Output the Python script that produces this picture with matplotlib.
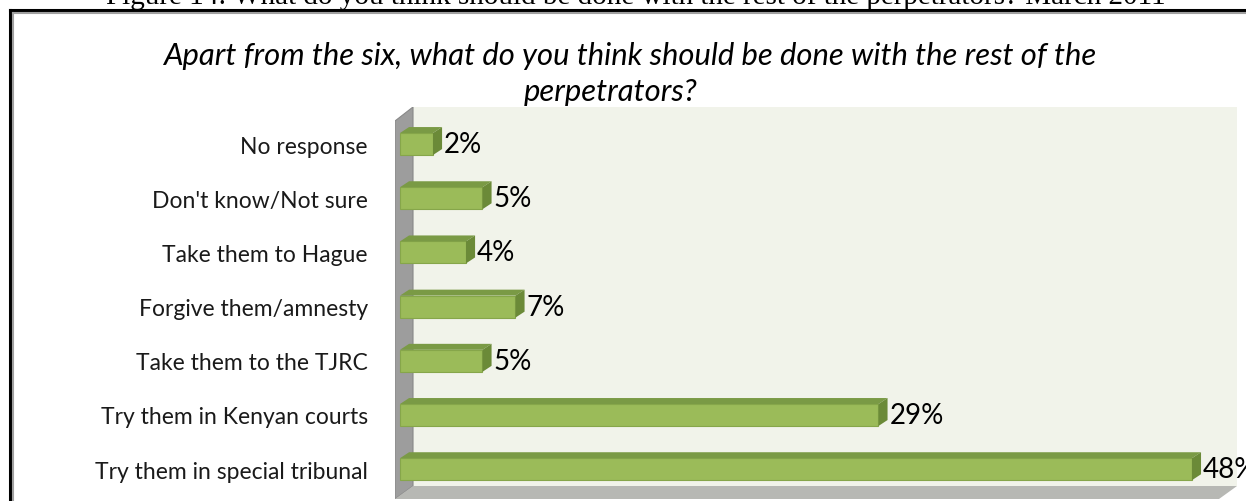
import matplotlib
matplotlib.use("Agg")
import matplotlib.pyplot as plt
from matplotlib.patches import Polygon
from matplotlib.lines import Line2D

# survey answers, top to bottom
categories = ["No response", "Don't know/Not sure", "Take them to Hague",
              "Forgive them/amnesty", "Take them to the TJRC",
              "Try them in Kenyan courts", "Try them in special tribunal"]
percent = [2, 5, 4, 7, 5, 29, 48]

caption = "Figure 14: What do you think should be done with the rest of the perpetrators? March 2011"
title_1 = "Apart from the six, what do you think should be done with the rest of the"
title_2 = "perpetrators?"

W, H = 1246, 502
fig = plt.figure(figsize=(W / 100, H / 100), dpi=100)
fig.patch.set_facecolor("white")

# caption above the framed box (partly cut off at the top)
fig.text(636 / W, 1 - 4.5 / H, caption, ha="center", va="baseline",
         fontsize=21, family="Liberation Serif", color="black")

# double border of the box: black outer, grey inner
fig.add_artist(Line2D([9.5 / W, 1.01], [1 - 10.5 / H, 1 - 10.5 / H], color="black", lw=2.2))
fig.add_artist(Line2D([9.5 / W, 9.5 / W], [1 - 10.5 / H, -0.01], color="black", lw=2.2))
fig.add_artist(Line2D([13 / W, 1.01], [1 - 14 / H, 1 - 14 / H], color="#a0a0a0", lw=1.5))
fig.add_artist(Line2D([13 / W, 13 / W], [1 - 14 / H, -0.01], color="#a0a0a0", lw=1.5))

fig.text(630 / W, 1 - 56 / H, title_1, ha="center", va="center",
         fontsize=22.3, family="Lato", style="italic")
fig.text(611 / W, 1 - 92 / H, title_2, ha="center", va="center",
         fontsize=22.3, family="Lato", style="italic")

ax = fig.add_axes([395 / W, 2 / H, 842 / W, 392 / H])
ax.set_xlim(-0.303, 50.73)
ax.set_ylim(6.55, -0.683)
ax.patch.set_visible(False)
for s in ax.spines.values():
    s.set_visible(False)
ax.set_xticks([])

# 3d walls and floor
bx, by = 18 / 842, 13 / 392
ax.add_patch(Polygon([(bx, by), (1, by), (1, 1), (bx, 1)], closed=True,
                     transform=ax.transAxes, fc="#f1f3ea", ec="none", zorder=0))
ax.add_patch(Polygon([(0, 0), (bx, by), (bx, 1), (0, 1 - 14 / 392)], closed=True,
                     transform=ax.transAxes, fc="#9d9d9d", ec="#888888", lw=0.8, zorder=1))
ax.add_patch(Polygon([(0, 0), (bx, by), (1, by), (1 - bx, 0)], closed=True,
                     transform=ax.transAxes, fc="#b7b8b4", ec="none", zorder=1))

ypos = list(range(len(categories)))
h = 0.406
dx, dy = 0.55, 0.11

ax.barh(ypos, percent, height=h, color="#9bbb59", edgecolor="#86a64a",
        linewidth=0.8, zorder=3)
for y, v in zip(ypos, percent):
    top = y - h / 2
    bot = y + h / 2
    ax.add_patch(Polygon([(0, top), (v, top), (v + dx, top - dy), (dx, top - dy)],
                         closed=True, fc="#7a9a45", ec="none", zorder=4))
    ax.add_patch(Polygon([(v, top), (v + dx, top - dy), (v + dx, bot - dy), (v, bot)],
                         closed=True, fc="#6b8a38", ec="none", zorder=4))
    ax.annotate(f"{v}%", (v + dx, y), xytext=(1.5, 0), textcoords="offset points",
                va="center", ha="left", fontsize=20, family="Lato", color="black",
                zorder=5)

ax.set_yticks(ypos)
ax.set_yticklabels(categories, family="Lato", fontsize=16.5, color="#1a1a1a")
ax.tick_params(axis="y", length=0, pad=19.5)

fig.savefig("out.png", dpi=100)
